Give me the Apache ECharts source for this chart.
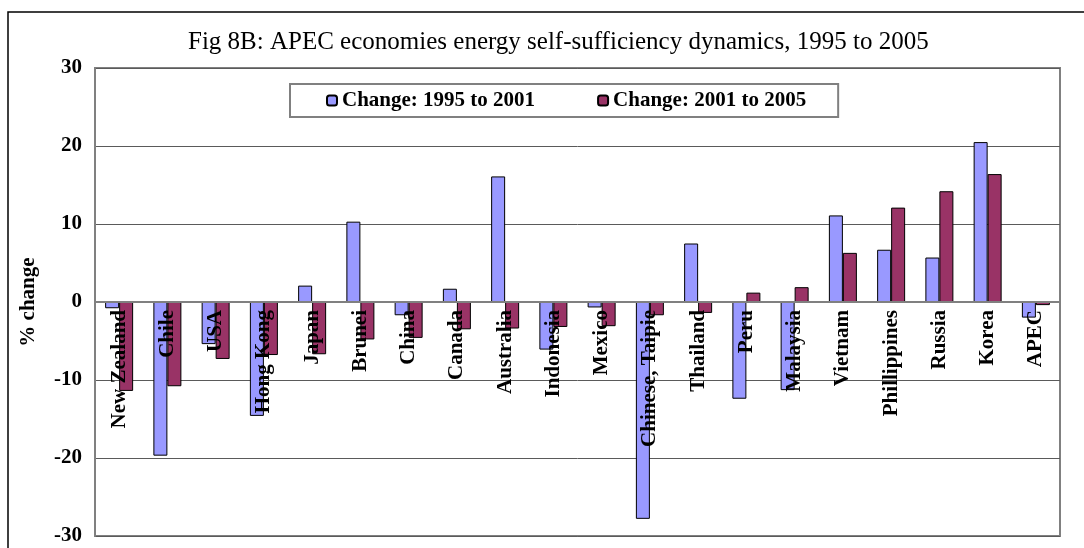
<!DOCTYPE html>
<html>
<head>
<meta charset="utf-8">
<script src="https://cdn.jsdelivr.net/npm/echarts@6/dist/echarts.min.js"></script>
<style>
  html, body { margin: 0; padding: 0; background: #fff; }
  #chart { width: 1084px; height: 548px; }
</style>
</head>
<body>
<div id="chart"></div>
<script>
// economies, in the order shown
const economies = ['New Zealand', 'Chile', 'USA', 'Hong Kong', 'Japan', 'Brunei', 'China', 'Canada',
  'Australia', 'Indonesia', 'Mexico', 'Chinese, Taipie', 'Thailand', 'Peru', 'Malaysia',
  'Vietnam', 'Phillippines', 'Russia', 'Korea', 'APEC'];

// % change
const change9501 = [-0.8, -19.7, -5.4, -14.6, 2.1, 10.3, -1.7, 1.7, 16.1, -6.1, -0.7, -27.8, 7.5, -12.4, -11.3, 11.1, 6.7, 5.7, 20.5, -2.0];
const change0105 = [-11.4, -10.8, -7.3, -6.8, -6.7, -4.8, -4.6, -3.5, -3.4, -3.2, -3.1, -1.7, -1.4, 1.2, 1.9, 6.3, 12.1, 14.2, 16.4, -0.4];

const yTicks = { min: -30, max: 30, step: 10 };

const serif = "'Liberation Serif', 'Times New Roman', serif";

const chart = echarts.init(document.getElementById('chart'));
chart.setOption({
  animation: false,
  title: {
    text: 'Fig 8B: APEC economies energy self-sufficiency dynamics, 1995 to 2005',
    left: 183,
    top: 25,
    textStyle: { fontFamily: serif, fontSize: 25, fontWeight: 'normal', color: '#000' }
  },
  graphic: [{
    type: 'rect',
    shape: { x: 8, y: 12, width: 1100, height: 560 },
    style: { fill: 'none', stroke: '#000', lineWidth: 1.5 },
    silent: true
  }],
  legend: {
    left: 290,
    top: 84,
    padding: [6, 32, 6, 36],
    itemGap: 62,
    itemWidth: 10,
    itemHeight: 10,
    borderColor: '#808080',
    borderWidth: 2,
    textStyle: { fontFamily: serif, fontSize: 21, fontWeight: 'bold', color: '#000' },
    data: ['Change: 1995 to 2001', 'Change: 2001 to 2005']
  },
  grid: {
    left: 95, right: 24, top: 68, bottom: 12,
    outerBoundsMode: 'none',
    containLabel: false,
    show: true,
    borderColor: '#808080',
    borderWidth: 2
  },
  xAxis: {
    type: 'category',
    data: economies,
    position: 'bottom',
    // labels sit on the zero line and over the bars, as in the original
    offset: -234,
    z: 10,
    axisLine: { onZero: false, lineStyle: { color: '#808080', width: 2 } },
    axisTick: { show: false },
    axisLabel: {
      interval: 0,
      rotate: 90,
      margin: 8,
      fontFamily: serif,
      fontSize: 21,
      fontWeight: 'bold',
      color: '#000'
    }
  },
  yAxis: {
    type: 'value',
    min: yTicks.min,
    max: yTicks.max,
    interval: yTicks.step,
    name: '% change',
    nameLocation: 'middle',
    nameGap: 56,
    nameMoveOverlap: false,
    nameTextStyle: { fontFamily: serif, fontSize: 21, fontWeight: 'bold', color: '#000' },
    axisLine: { show: true, lineStyle: { color: '#808080', width: 2 } },
    axisTick: { show: false },
    axisLabel: { margin: 13, fontFamily: serif, fontSize: 21, fontWeight: 'bold', color: '#000' },
    splitLine: { lineStyle: { color: '#5a5a5a', width: 1 } }
  },
  series: [{
    name: 'Change: 1995 to 2001',
    type: 'bar',
    data: change9501,
    barWidth: 14,
    barGap: '0%',
    itemStyle: { color: '#9999FF', borderColor: '#000', borderWidth: 1 }
  }, {
    name: 'Change: 2001 to 2005',
    type: 'bar',
    data: change0105,
    barWidth: 14,
    itemStyle: { color: '#993366', borderColor: '#000', borderWidth: 1 }
  }]
});
</script>
</body>
</html>
